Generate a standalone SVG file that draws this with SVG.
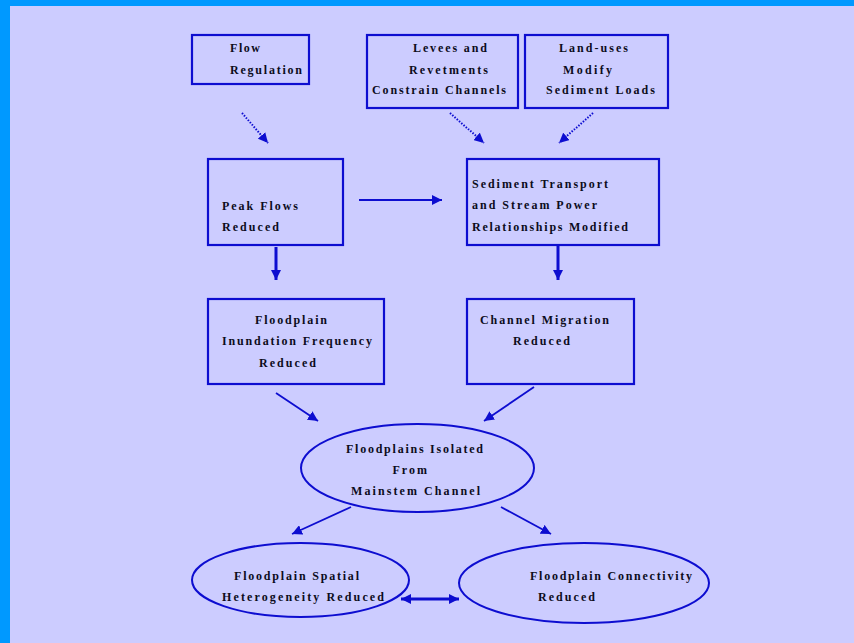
<svg xmlns="http://www.w3.org/2000/svg" width="854" height="643" viewBox="0 0 854 643">
<style>
.bx{fill:none;stroke:#0D0DD0;stroke-width:2.2}
.el{fill:none;stroke:#0D0DD0;stroke-width:2}
.t{font-family:"Liberation Serif","Times New Roman",serif;font-weight:bold;font-size:12px;fill:#0c0c1c}
.ln{stroke:#0D0DD0;fill:none;stroke-width:1.8}
.th{stroke:#0D0DD0;fill:none;stroke-width:3}
.dt{stroke:#0D0DD0;fill:none;stroke-width:2;stroke-dasharray:1.5 1.5}
</style>
<defs>
<marker id="ah" markerUnits="userSpaceOnUse" markerWidth="12" markerHeight="10" refX="10" refY="5" orient="auto">
<path d="M0,0 L10,5 L0,10 z" fill="#0D0DD0"/>
</marker>
<marker id="ahs" markerUnits="userSpaceOnUse" markerWidth="12" markerHeight="10" refX="0" refY="5" orient="auto">
<path d="M10,0 L0,5 L10,10 z" fill="#0D0DD0"/>
</marker>
</defs>
<rect x="0" y="0" width="854" height="643" fill="#0099FF"/>
<rect x="10" y="6" width="844" height="637" fill="#CCCCFF"/>

<g id="connectors">
<line class="dt" x1="242" y1="113" x2="268" y2="143" marker-end="url(#ah)"/>
<line class="dt" x1="450" y1="113" x2="484" y2="143" marker-end="url(#ah)"/>
<line class="dt" x1="593" y1="113" x2="559" y2="143" marker-end="url(#ah)"/>
<line class="ln" x1="359" y1="200" x2="442" y2="200" marker-end="url(#ah)"/>
<line class="th" x1="276" y1="247" x2="276" y2="280" marker-end="url(#ah)"/>
<line class="th" x1="558" y1="245" x2="558" y2="280" marker-end="url(#ah)"/>
<line class="ln" x1="276" y1="393" x2="318" y2="421" marker-end="url(#ah)"/>
<line class="ln" x1="534" y1="387" x2="484" y2="421" marker-end="url(#ah)"/>
<line class="ln" x1="351" y1="507" x2="292" y2="534" marker-end="url(#ah)"/>
<line class="ln" x1="501" y1="507" x2="551" y2="534" marker-end="url(#ah)"/>
<line class="th" x1="401" y1="599" x2="459" y2="599" marker-start="url(#ahs)" marker-end="url(#ah)"/>
</g>

<g id="flow-regulation">
<rect class="bx" x="192" y="35" width="117" height="49"/>
<text class="t" x="230" y="52" textLength="30" lengthAdjust="spacing">Flow</text>
<text class="t" x="230" y="74" textLength="72" lengthAdjust="spacing">Regulation</text>
</g>

<g id="levees">
<rect class="bx" x="367" y="35" width="151" height="73"/>
<text class="t" x="413" y="52" textLength="74" lengthAdjust="spacing">Levees and</text>
<text class="t" x="409" y="74" textLength="79" lengthAdjust="spacing">Revetments</text>
<text class="t" x="372" y="94" textLength="134" lengthAdjust="spacing">Constrain Channels</text>
</g>

<g id="land-uses">
<rect class="bx" x="525" y="35" width="143" height="73"/>
<text class="t" x="559" y="52" textLength="69" lengthAdjust="spacing">Land-uses</text>
<text class="t" x="563" y="74" textLength="49" lengthAdjust="spacing">Modify</text>
<text class="t" x="546" y="94" textLength="109" lengthAdjust="spacing">Sediment Loads</text>
</g>

<g id="peak-flows">
<rect class="bx" x="208" y="159" width="135" height="86"/>
<text class="t" x="222" y="210" textLength="76" lengthAdjust="spacing">Peak Flows</text>
<text class="t" x="222" y="231" textLength="57" lengthAdjust="spacing">Reduced</text>
</g>

<g id="sediment-transport">
<rect class="bx" x="467" y="159" width="192" height="86"/>
<text class="t" x="472" y="188" textLength="136" lengthAdjust="spacing">Sediment Transport</text>
<text class="t" x="472" y="209" textLength="125" lengthAdjust="spacing">and Stream Power</text>
<text class="t" x="472" y="231" textLength="156" lengthAdjust="spacing">Relationships Modified</text>
</g>

<g id="inundation">
<rect class="bx" x="208" y="299" width="176" height="85"/>
<text class="t" x="255" y="324" textLength="72" lengthAdjust="spacing">Floodplain</text>
<text class="t" x="222" y="345" textLength="150" lengthAdjust="spacing">Inundation Frequency</text>
<text class="t" x="259" y="367" textLength="57" lengthAdjust="spacing">Reduced</text>
</g>

<g id="channel-migration">
<rect class="bx" x="467" y="299" width="167" height="85"/>
<text class="t" x="480" y="324" textLength="129" lengthAdjust="spacing">Channel Migration</text>
<text class="t" x="513" y="345" textLength="57" lengthAdjust="spacing">Reduced</text>
</g>

<g id="floodplains-isolated">
<ellipse class="el" cx="417.5" cy="468" rx="116.5" ry="44"/>
<text class="t" x="346" y="453" textLength="137" lengthAdjust="spacing">Floodplains Isolated</text>
<text class="t" x="392.5" y="474" textLength="34.5" lengthAdjust="spacing">From</text>
<text class="t" x="351" y="495" textLength="129" lengthAdjust="spacing">Mainstem Channel</text>
</g>

<g id="spatial-heterogeneity">
<ellipse class="el" cx="300.5" cy="580" rx="108.5" ry="37"/>
<text class="t" x="234" y="580" textLength="125" lengthAdjust="spacing">Floodplain Spatial</text>
<text class="t" x="222" y="601" textLength="162" lengthAdjust="spacing">Heterogeneity  Reduced</text>
</g>

<g id="connectivity">
<ellipse class="el" cx="584" cy="583" rx="125" ry="40"/>
<text class="t" x="530" y="580" textLength="162" lengthAdjust="spacing">Floodplain Connectivity</text>
<text class="t" x="538" y="601" textLength="57" lengthAdjust="spacing">Reduced</text>
</g>
</svg>
